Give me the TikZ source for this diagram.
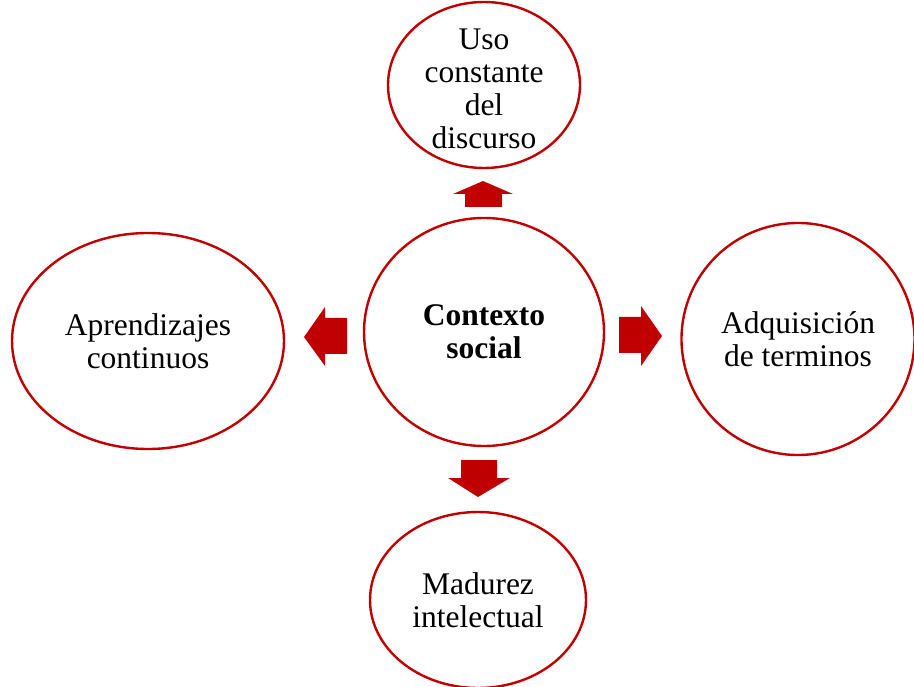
\documentclass[tikz,border=0pt]{standalone}
\usepackage{fontspec}
\setmainfont{Liberation Serif}
\usetikzlibrary{shapes.geometric}
\definecolor{dred}{HTML}{C00000}
\tikzset{
  bub/.style={ellipse, draw=dred, line width=2.4pt, fill=white, inner sep=0pt, align=center,
    font=\fontsize{31.5}{33}\selectfont},
  txt/.style={inner sep=0pt, align=center, font=\fontsize{31.5}{33}\selectfont},
  blockarrow/.style={fill=dred, draw=none}
}
\begin{document}
\begin{tikzpicture}[x=1pt,y=-1pt]
\useasboundingbox (0,0) rectangle (914,687);
\fill[white] (0,0) rectangle (914,687);
\node[bub, minimum width=240pt, minimum height=228pt] (c) at (484,332) {\textbf{Contexto}\\\textbf{social}};
\node[bub, minimum width=192pt, minimum height=166pt] (t) at (484,85) {};
\node[txt] (tl) at (484,89) {Uso\\constante\\del\\discurso};
\node[bub, minimum width=272pt, minimum height=216pt] (l) at (148,341) {Aprendizajes\\continuos};
\node[bub, minimum width=233pt, minimum height=232pt] (r) at (798,339) {Adquisición\\de terminos};
\node[bub, minimum width=216pt, minimum height=176pt] (b) at (478,600) {Madurez\\intelectual};
% block arrows
\fill[blockarrow] (465,207) -- (465,194) -- (453,194) -- (483,181) -- (513,194) -- (502,194) -- (502,207) -- cycle;
\fill[blockarrow] (347,318) -- (325,318) -- (325,307) -- (304,337) -- (325,366) -- (325,354) -- (347,354) -- cycle;
\fill[blockarrow] (619,317) -- (641,317) -- (641,306) -- (662,336) -- (641,366) -- (641,353) -- (619,353) -- cycle;
\fill[blockarrow] (461,460) -- (497,460) -- (497,478) -- (510,478) -- (478,497) -- (448,478) -- (461,478) -- cycle;
\end{tikzpicture}
\end{document}
